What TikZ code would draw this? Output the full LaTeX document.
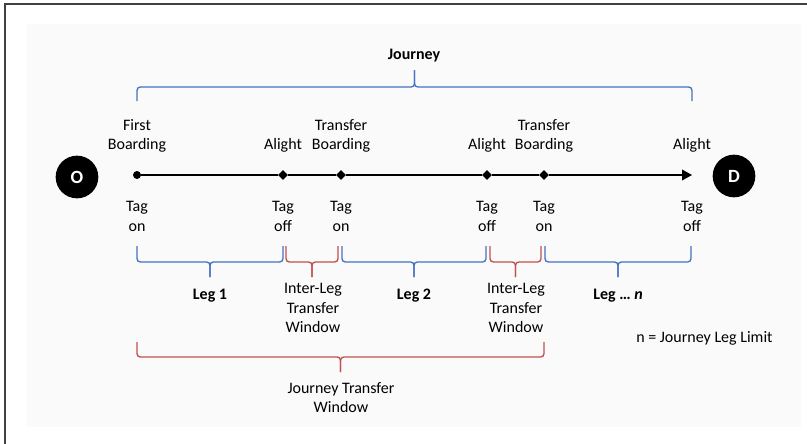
\documentclass[tikz,border=0pt]{standalone}
\usepackage{fontspec}
\setmainfont{Carlito}
\usepackage{xcolor}
\usetikzlibrary{calc, shapes.geometric, arrows.meta, positioning}

\definecolor{legblue}{RGB}{68,114,196}
\definecolor{xferred}{RGB}{192,80,77}
\definecolor{panelgray}{RGB}{250,250,250}
\definecolor{framegray}{RGB}{64,64,64}

% brace: colour, left stop, right stop, inset, end y, mid y, tip y
\newcommand{\tbrace}[7]{%
  \coordinate (bl) at ($(#2 |- 0,#5) + (#4,0)$);
  \coordinate (br) at ($(#3 |- 0,#5) - (#4,0)$);
  \coordinate (bm) at ($(bl)!0.5!(br)$);
  \draw[bracestyle, #1] (bl) -- (bl |- 0,#6) -- (bm |- 0,#6) -- (bm |- 0,#7);
  \draw[bracestyle, #1] (br) -- (br |- 0,#6) -- (bm |- 0,#6) -- (bm |- 0,#7);
}

\tikzset{
  lbl/.style={font=\fontsize{12}{14.6}\selectfont, align=center, inner sep=0pt},
  boldlbl/.style={lbl, font=\fontsize{12}{14.6}\selectfont\bfseries},
  bracestyle/.style={line width=1pt, rounded corners=2.5pt},
  enddot/.style={circle, fill=black, minimum size=32pt, inner sep=0pt,
    text=white, font=\fontsize{14}{16}\selectfont\bfseries},
  startdot/.style={circle, fill=black, minimum size=6pt, inner sep=0pt},
  stopmark/.style={diamond, fill=black, minimum size=7.5pt, inner sep=0pt},
}

\begin{document}
\begin{tikzpicture}[x=0.75pt, y=-0.75pt]
    \useasboundingbox (0,0) rectangle (807,443);

    % Rahmen und Hintergrund
    \draw[framegray, line width=1.5pt] (5,445) -- (5,4) -- (809,4);
    \fill[panelgray] (27,24) rectangle (801,427);

    % Haltestellen
    \node[enddot] (O) at (77,177) {O};
    \node[enddot] (D) at (734,176) {D};
    \node[startdot] (s1) at (137,175) {};
    \node[stopmark] (s2) at (283,175) {};
    \node[stopmark] (s3) at (341,175) {};
    \node[stopmark] (s4) at (487,175) {};
    \node[stopmark] (s5) at (544,175) {};
    \coordinate (s6) at (692,175);

    % Zeitachse
    \draw[line width=1.1pt, -{Triangle[length=7.5pt, width=8pt]}]
        (s1) -- (s2) -- (s3) -- (s4) -- (s5) -- (s6);

    % Beschriftung oben
    \node[lbl, anchor=south] (b1) at (s1 |- 0,153) {First\\Boarding};
    \node[lbl, anchor=south] (a1) at (s2 |- 0,153) {Alight};
    \node[lbl, anchor=south] (b2) at (s3 |- 0,153) {Transfer\\Boarding};
    \node[lbl, anchor=south] (a2) at (s4 |- 0,153) {Alight};
    \node[lbl, anchor=south] (b3) at (s5 |- 0,153) {Transfer\\Boarding};
    \node[lbl, anchor=south] (a3) at (s6 |- 0,153) {Alight};

    % Beschriftung unten
    \node[lbl, anchor=north] (t1) at (s1 |- 0,201) {Tag\\on};
    \node[lbl, anchor=north] (t2) at (s2 |- 0,201) {Tag\\off};
    \node[lbl, anchor=north] (t3) at (s3 |- 0,201) {Tag\\on};
    \node[lbl, anchor=north] (t4) at (s4 |- 0,201) {Tag\\off};
    \node[lbl, anchor=north] (t5) at (s5 |- 0,201) {Tag\\on};
    \node[lbl, anchor=north] (t6) at (s6 |- 0,201) {Tag\\off};

    % Klammern
    \tbrace{legblue}{s1}{s6}{0}{101}{87}{70}
    \tbrace{legblue}{s1}{s2}{0}{246}{262}{277}
    \tbrace{xferred}{s2}{s3}{3}{246}{262}{277}
    \tbrace{legblue}{s3}{s4}{1}{246}{262}{277}
    \tbrace{xferred}{s4}{s5}{3}{246}{262}{277}
    \tbrace{legblue}{s5}{s6}{1}{246}{262}{277}
    \tbrace{xferred}{s1}{s5}{0}{342}{357}{372}

    % Abschnitte
    \node[boldlbl, anchor=base] (jn) at (414,59) {Journey};
    \node[boldlbl, anchor=base] (l1) at (210,299) {Leg 1};
    \node[lbl, anchor=north] (w1) at (313,283) {Inter-Leg\\Transfer\\Window};
    \node[boldlbl, anchor=base] (l2) at (414,299) {Leg 2};
    \node[lbl, anchor=north] (w2) at (516,283) {Inter-Leg\\Transfer\\Window};
    \node[boldlbl, anchor=base] (ln) at (618,299) {Leg … \textit{n}};
    \node[lbl, anchor=north] (jw) at (341,382) {Journey Transfer\\Window};
    \node[lbl, anchor=base west] (lim) at (636,342) {n = Journey Leg Limit};
\end{tikzpicture}
\end{document}
